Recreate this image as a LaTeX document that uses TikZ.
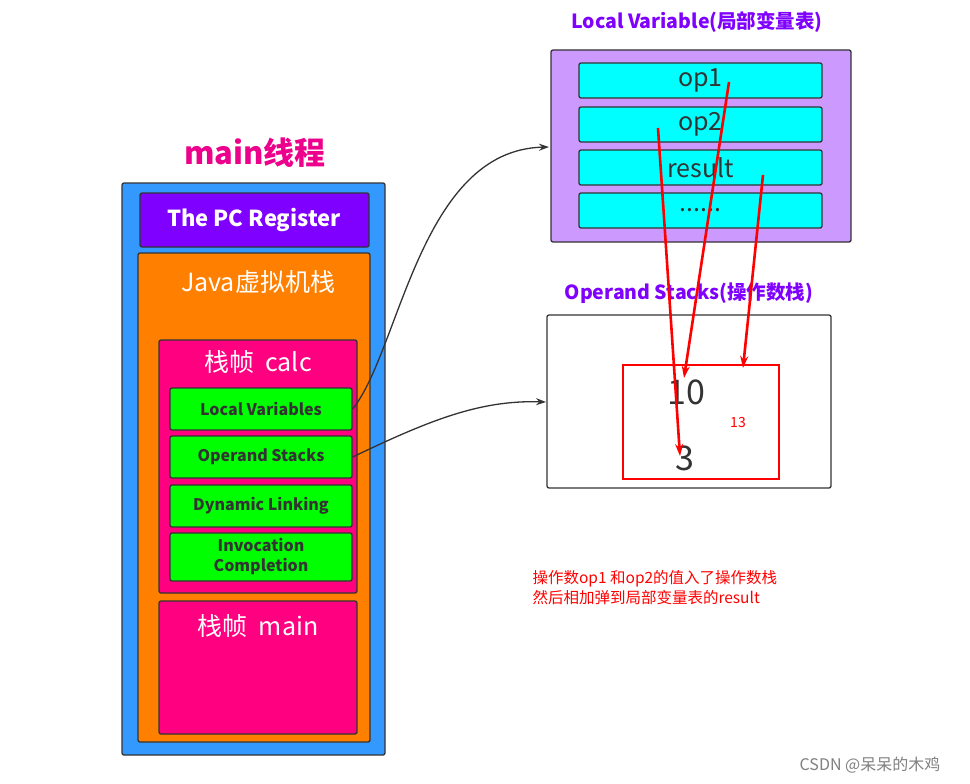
\documentclass[tikz,border=0pt]{standalone}
\usepackage{fontspec}
\setmainfont{Noto Sans CJK SC}
\newfontfamily\cjkserif{Noto Sans CJK SC}
\usetikzlibrary{arrows.meta}
\definecolor{cblue}{HTML}{3399FF}
\definecolor{cviolet}{HTML}{7F00FF}
\definecolor{corange}{HTML}{FF8000}
\definecolor{cpink}{HTML}{FF0080}
\definecolor{cgreen}{HTML}{00FF00}
\definecolor{clav}{HTML}{CC99FF}
\definecolor{ccyan}{HTML}{00FFFF}
\definecolor{cdark}{HTML}{333333}
\definecolor{ctitle}{HTML}{8000FF}
\tikzset{
 box/.style={draw=cdark,line width=1.3pt,rounded corners=2pt},
 gbox/.style={box,fill=cgreen,font=\bfseries\fontsize{16}{17}\selectfont,text=cdark,align=center},
 cbox/.style={box,fill=ccyan,font=\fontsize{25}{26}\selectfont,text=cdark},
 redarr/.style={red,line width=2.6pt,-{Stealth[length=12pt,width=8pt]}},
 conn/.style={cdark,line width=1.3pt,-{Stealth[length=10pt,width=7pt]}},
}
\begin{document}
\begin{tikzpicture}[x=1pt,y=-1pt]
\useasboundingbox[fill=white] (0,0) rectangle (970,784);
\node[font=\bfseries\fontsize{31}{33}\selectfont,text=magenta] (t1) at (255,153) {main线程};
\draw[box,fill=cblue] (122,183) rectangle (385,755);
\draw[box,fill=cviolet] (140,193) rectangle (369,247);
\node[text=white,font=\bfseries\fontsize{22}{23}\selectfont] (pc) at (254,220) {The PC Register};
\draw[box,fill=corange] (138,253) rectangle (370,742);
\node[text=white,font=\fontsize{25}{26}\selectfont] (jvm) at (258,282) {Java虚拟机栈};
\draw[box,fill=cpink] (159,340) rectangle (357,593);
\node[text=white,font=\fontsize{25}{26}\selectfont] (calc) at (258,362) {栈帧\ \ calc};
\node[gbox,minimum width=182,minimum height=42] (lv) at (261,409) {Local Variables};
\node[gbox,minimum width=182,minimum height=42] (os) at (261,457) {Operand Stacks};
\node[gbox,minimum width=182,minimum height=42] (dl) at (261,506) {Dynamic Linking};
\node[gbox,minimum width=182,minimum height=48,inner sep=1pt,font=\bfseries\fontsize{16}{20}\selectfont] (ic) at (261,557) {Invocation\\Completion};
\draw[box,fill=cpink] (159,601) rectangle (357,734);
\node[text=white,font=\fontsize{25}{26}\selectfont] (mainf) at (258,626) {栈帧\ \ main};
%
\node[text=ctitle,font=\bfseries\fontsize{19.5}{21}\selectfont] (lvt) at (697,22) {Local Variable(局部变量表)};
\draw[box,fill=clav] (551,50) rectangle (851,242);
\coordinate (lvin) at (549,147);
\node[cbox,minimum width=243,minimum height=35] (op1) at (700.5,80.5) {op1};
\node[cbox,minimum width=243,minimum height=35] (op2) at (700.5,124.5) {op2};
\node[cbox,minimum width=243,minimum height=35] (res) at (700.5,167.5) {result};
\node[cbox,minimum width=243,minimum height=35] (dots) at (700.5,210.5) {......};
%
\node[text=ctitle,font=\bfseries\fontsize{19.5}{21}\selectfont] (ost) at (689,293) {Operand Stacks(操作数栈)};
\draw[box] (547,315) rectangle (831,488);
\coordinate (osin) at (546,402);
\draw[red,line width=2.5pt] (623,365) rectangle (779,479);
\node[text=cdark,font=\fontsize{34}{36}\selectfont] (ten) at (686,392) {10};
\node[text=cdark,font=\fontsize{34}{36}\selectfont] (three) at (685,458) {3};
\node[text=red,font=\fontsize{14}{15}\selectfont] (thirteen) at (738,423) {13};
%
\coordinate (a1) at (658,128); \coordinate (b1) at (680,456);
\coordinate (a2) at (729,82); \coordinate (b2) at (684,378);
\coordinate (a3) at (763,175); \coordinate (b3) at (743,368);
\draw[redarr] (a1) -- (b1);
\draw[redarr] (a2) -- (b2);
\draw[redarr] (a3) -- (b3);
\draw[conn] (lv.east) .. controls (400,350) and (420,150) .. (lvin);
\draw[conn] (os.east) .. controls (430,420) and (480,400) .. (osin);
%
\node[text=red,anchor=west,align=left,font=\cjkserif\fontsize{15.5}{20}\selectfont] (note) at (529,588) {操作数op1 和op2的值入了操作数栈\\然后相加弹到局部变量表的result};
\node[text=gray,font=\fontsize{16}{17}\selectfont] (wm) at (870,765) {CSDN @呆呆的木鸡};
\end{tikzpicture}
\end{document}
